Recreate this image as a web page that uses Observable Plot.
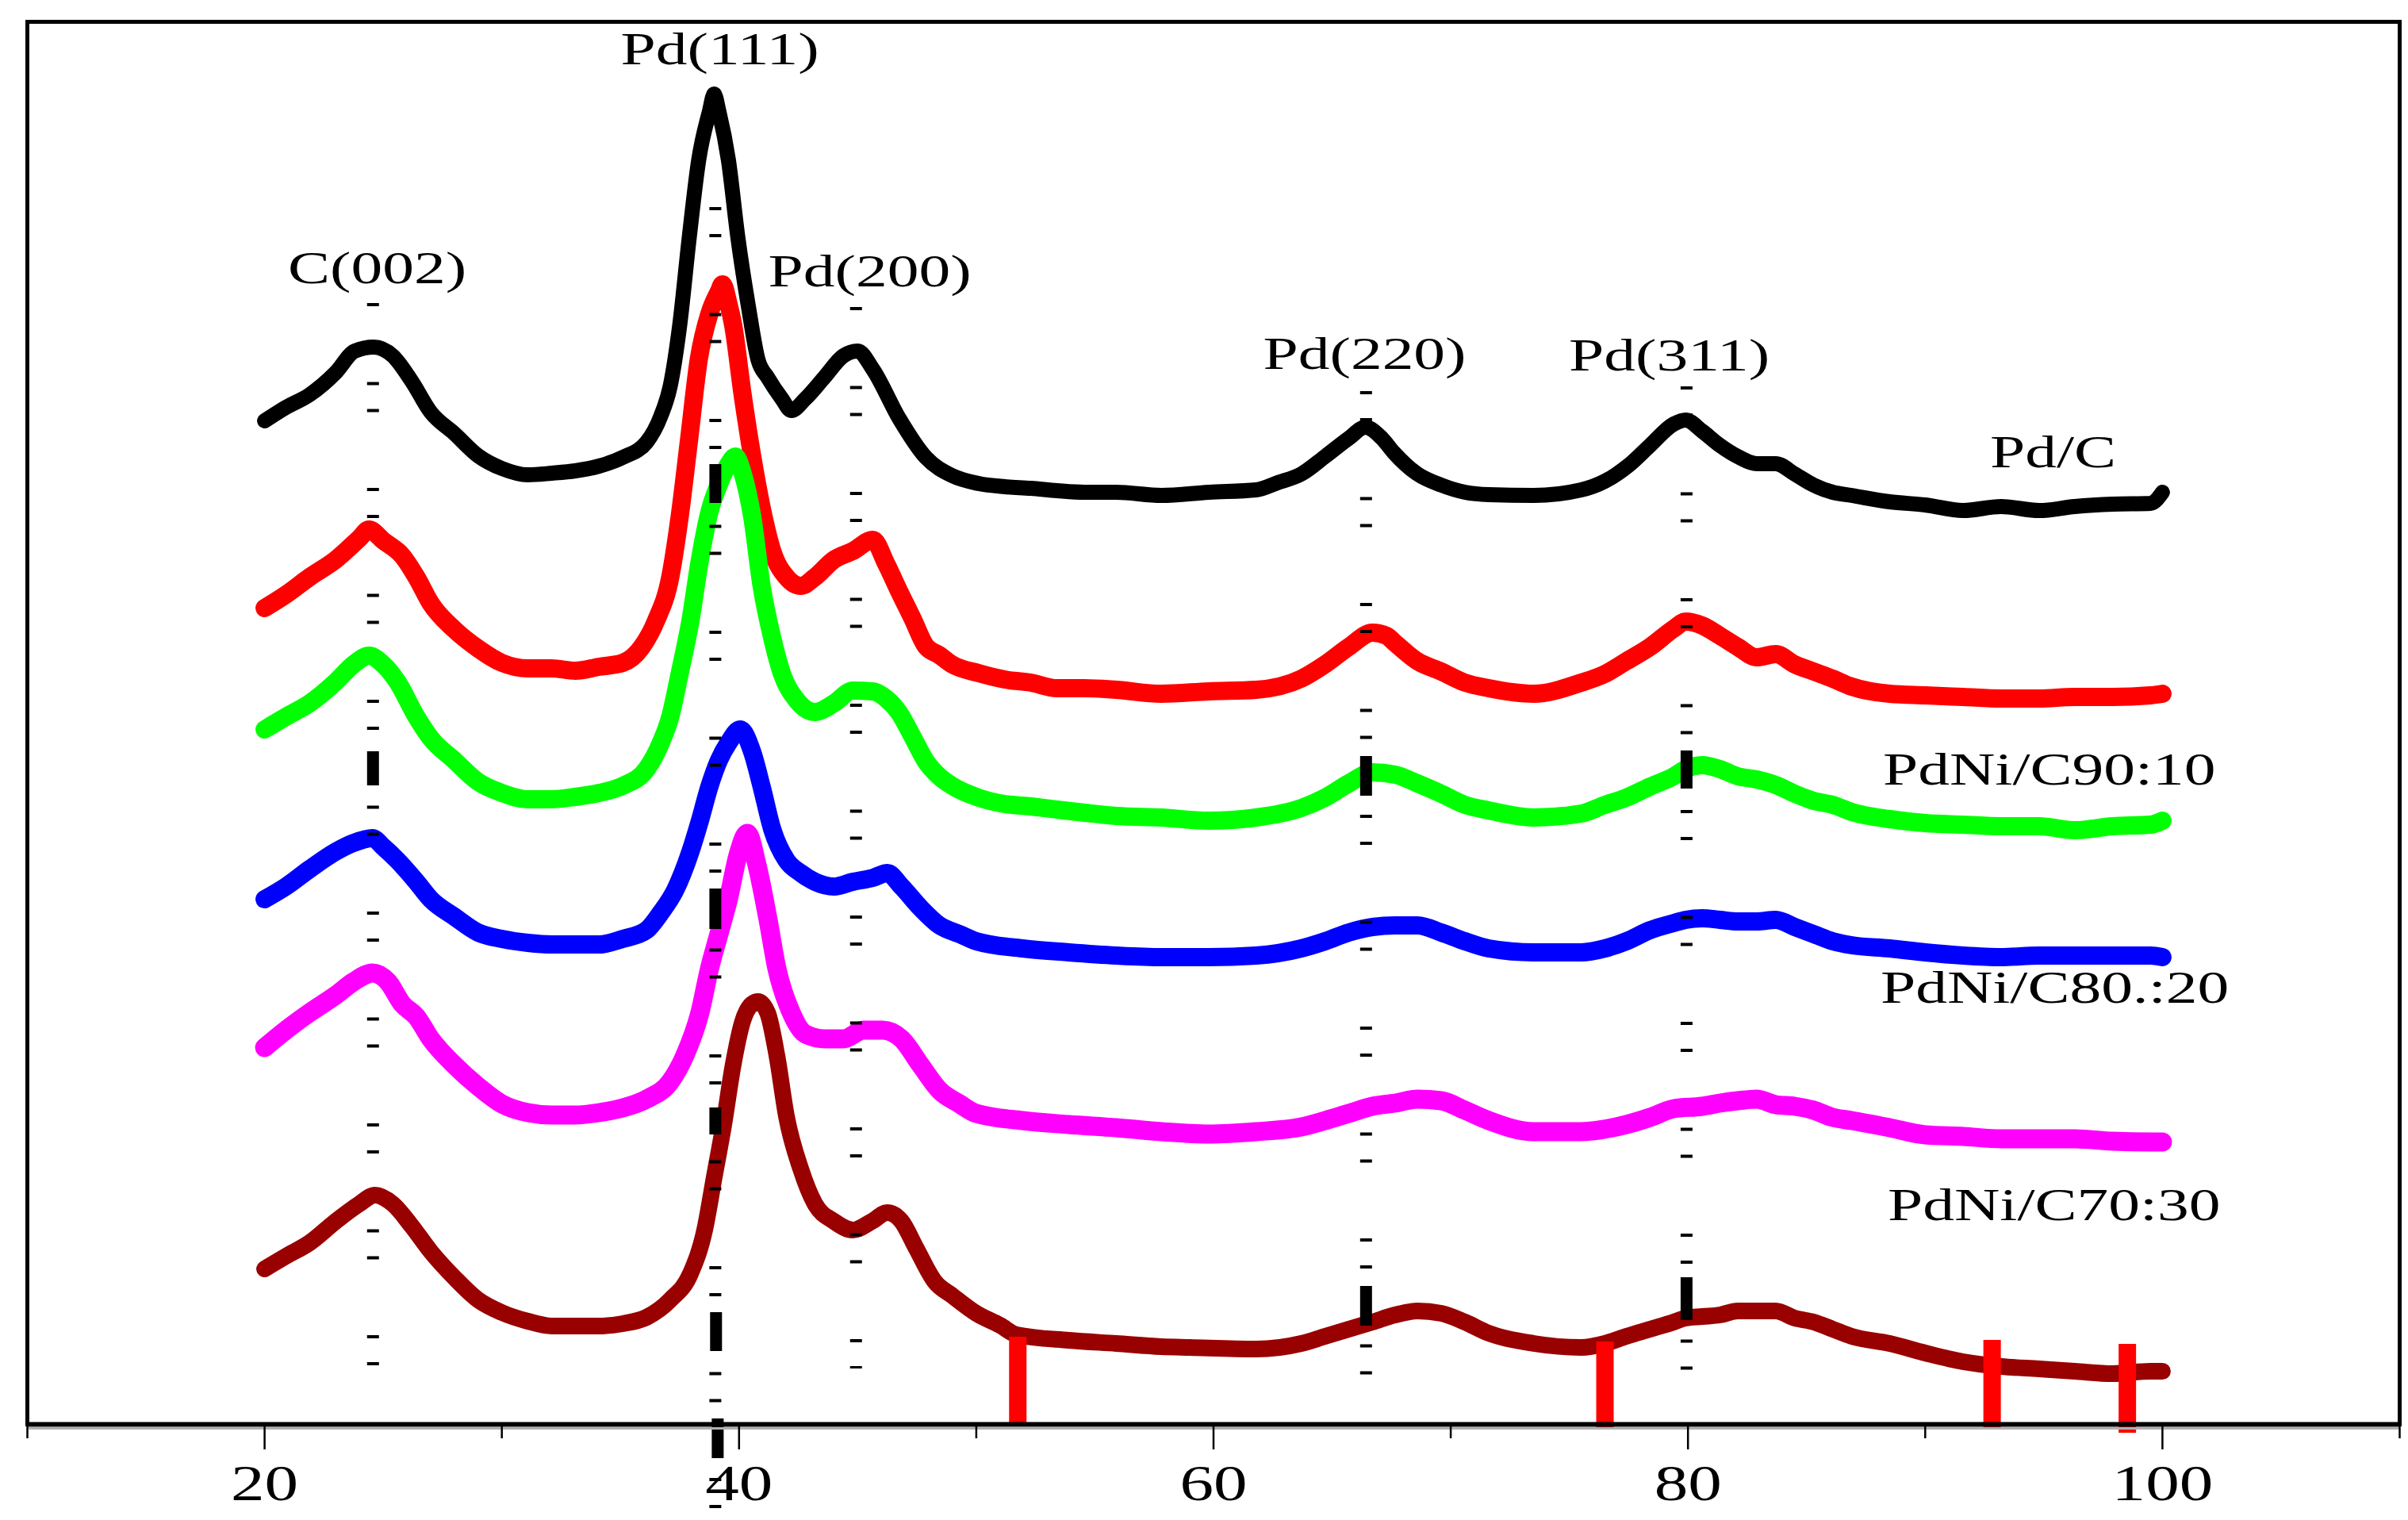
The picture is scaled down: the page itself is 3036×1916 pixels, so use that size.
<!DOCTYPE html>
<html><head><meta charset="utf-8">
<script src="https://cdn.jsdelivr.net/npm/d3@7"></script>
<script src="https://cdn.jsdelivr.net/npm/@observablehq/plot@0.6"></script>
<style>html,body{margin:0;padding:0;background:#fff;}</style>
</head><body><div id="chart"></div>
<script>
// 2θ (degrees) vs intensity (a.u.) (stacked patterns)
const pdC = [[20.0,1265],[20.9,1282],[21.9,1298],[23.0,1326],[23.8,1353],[24.6,1358],[25.4,1347],[26.2,1315],[27.0,1276],[28.0,1249],[29.0,1221],[30.0,1205],[31.1,1197],[32.1,1199],[33.1,1202],[34.1,1208],[35.1,1219],[36.1,1238],[36.7,1271],[37.1,1309],[37.5,1386],[37.9,1496],[38.3,1594],[38.75,1655],[38.95,1677],[39.15,1655],[39.55,1594],[39.95,1496],[40.4,1408],[40.8,1342],[41.2,1320],[41.8,1293],[42.2,1278],[42.8,1293],[43.6,1320],[44.4,1347],[45.0,1353],[45.64,1330],[46.75,1268],[47.87,1219],[48.98,1196],[50.1,1186],[51.2,1182],[52.3,1180],[53.4,1177],[54.56,1175],[55.9,1175],[57.8,1171],[59.8,1175],[61.8,1178],[62.7,1187],[63.7,1198],[64.7,1220],[65.7,1243],[66.4,1257],[67.1,1243],[67.6,1225],[68.6,1198],[69.6,1184],[70.6,1175],[71.6,1172],[73.5,1171],[75.5,1178],[76.5,1189],[77.5,1209],[78.4,1234],[79.4,1261],[79.9,1266],[80.6,1252],[81.35,1234],[82.1,1220],[82.9,1211],[83.7,1211],[84.5,1198],[85.3,1184],[86.1,1175],[86.9,1171],[88.5,1163],[90.0,1159],[91.6,1152],[93.2,1157],[94.8,1152],[96.3,1157],[97.9,1160],[99.5,1161],[100.0,1175]];
const pdNi95 = [[20.0,1029],[20.9,1046],[21.9,1068],[23.0,1090],[24.0,1117],[24.4,1128],[25.0,1114],[25.8,1095],[26.4,1068],[27.0,1035],[28.0,1002],[29.0,978],[30.0,960],[31.1,953],[32.1,953],[33.1,950],[34.1,955],[35.1,960],[35.9,980],[36.5,1013],[37.1,1068],[37.5,1145],[37.9,1243],[38.3,1342],[38.75,1400],[39.15,1428],[39.3,1437],[39.55,1413],[39.75,1386],[40.15,1298],[40.55,1221],[40.95,1156],[41.4,1101],[42.0,1068],[42.6,1057],[43.2,1068],[44.0,1090],[44.8,1101],[45.64,1115],[46.2,1085],[46.75,1050],[47.31,1016],[47.87,981],[48.43,970],[48.98,958],[50.1,947],[51.2,939],[52.3,935],[53.4,928],[54.56,928],[55.9,926],[57.8,921],[59.8,924],[61.8,926],[63.7,940],[64.7,958],[65.7,980],[66.7,998],[67.3,994],[67.65,985],[68.6,962],[69.6,949],[70.6,935],[71.6,928],[73.5,921],[75.5,935],[76.5,946],[77.4,962],[78.4,980],[79.4,1003],[79.9,1012],[80.6,1007],[81.35,994],[82.1,980],[82.9,967],[83.7,971],[84.5,958],[85.3,949],[86.1,940],[86.9,930],[88.5,921],[90.0,919],[91.6,917],[93.2,915],[94.8,915],[96.3,917],[97.9,917],[99.5,919],[100.0,921]];
const pdNi90 = [[20.0,876],[20.9,892],[21.9,909],[23.0,936],[23.75,958],[24.4,969],[25.0,958],[25.6,936],[26.4,892],[27.0,865],[28.0,837],[29.0,810],[30.0,796],[31.1,788],[32.1,788],[33.1,791],[34.1,796],[35.1,805],[36.1,826],[36.7,859],[37.1,892],[37.5,947],[37.95,1013],[38.35,1090],[38.75,1150],[39.15,1185],[39.55,1210],[39.85,1220],[40.15,1199],[40.55,1145],[40.95,1057],[41.4,991],[41.8,947],[42.4,914],[43.2,898],[44.0,909],[44.8,925],[45.64,924],[46.2,915],[46.75,897],[47.31,867],[47.87,836],[48.43,817],[48.98,805],[50.1,790],[51.2,782],[52.3,779],[53.4,775],[54.56,771],[55.9,767],[57.8,765],[59.8,761],[61.8,765],[63.7,777],[64.7,790],[65.7,808],[66.7,822],[67.65,819],[68.6,808],[69.6,795],[70.6,781],[71.6,774],[73.5,765],[75.5,770],[76.5,781],[77.4,790],[78.4,804],[79.4,817],[79.9,826],[80.6,831],[81.35,826],[82.1,817],[82.9,813],[83.7,806],[84.5,795],[85.3,786],[86.1,781],[86.9,772],[88.5,763],[90.0,758],[91.6,756],[93.2,754],[94.8,754],[96.3,749],[97.9,754],[99.5,756],[100.0,761]];
const pdNi85 = [[20.0,662],[20.9,678],[21.9,700],[23.0,722],[23.75,733],[24.55,739],[25.0,728],[25.6,711],[26.4,684],[27.0,662],[28.0,640],[29.0,620],[30.0,612],[31.1,607],[32.1,605],[33.1,605],[34.1,605],[35.1,612],[36.1,623],[36.7,645],[37.3,673],[37.95,722],[38.35,761],[38.75,804],[39.15,837],[39.55,859],[40.05,876],[40.55,848],[40.95,804],[41.4,750],[42.0,711],[42.6,695],[43.2,684],[44.0,678],[44.8,684],[45.65,689],[46.25,695],[46.85,678],[47.65,651],[48.45,629],[49.3,618],[50.0,609],[51.95,600],[53.9,595],[55.9,591],[57.8,589],[59.8,589],[61.8,591],[63.7,600],[64.7,609],[65.7,620],[66.7,627],[67.65,629],[68.6,629],[69.6,620],[70.6,609],[71.6,600],[73.5,595],[75.5,595],[76.5,600],[77.4,609],[78.4,623],[79.4,632],[79.9,636],[80.6,638],[81.35,636],[82.1,634],[82.9,634],[83.7,636],[84.5,627],[85.3,618],[86.1,609],[86.9,604],[88.5,600],[90.0,595],[91.6,591],[93.2,589],[94.8,591],[96.3,591],[97.9,591],[99.5,591],[100.0,589]];
const pdNi80 = [[20.0,475],[20.9,497],[21.9,519],[23.0,541],[23.75,558],[24.55,569],[25.2,558],[25.8,530],[26.4,514],[27.0,486],[28.0,453],[29.0,426],[30.0,404],[31.1,393],[32.1,390],[33.1,390],[34.1,393],[35.1,399],[36.1,410],[37.1,432],[37.7,464],[38.35,519],[38.75,574],[39.15,618],[39.55,662],[39.95,717],[40.35,745],[40.75,706],[41.2,640],[41.6,574],[42.2,519],[42.8,492],[43.6,486],[44.4,486],[45.25,497],[46.05,497],[46.85,486],[47.65,453],[48.45,421],[49.3,404],[50.0,392],[51.95,383],[53.9,378],[55.9,374],[57.8,369],[59.8,366],[61.8,369],[63.7,375],[64.7,383],[65.7,392],[66.7,401],[67.65,405],[68.6,410],[69.6,408],[70.6,396],[71.6,383],[73.5,369],[75.5,369],[77.4,378],[78.4,387],[79.4,398],[80.6,401],[81.35,405],[82.1,408],[82.9,410],[83.7,403],[84.5,401],[85.3,396],[86.1,387],[86.9,383],[88.5,374],[90.0,365],[91.6,363],[93.2,360],[94.8,360],[96.3,360],[97.9,357],[99.5,356],[100.0,356]];
const pdNi70 = [[20.0,196],[20.9,212],[21.9,229],[23.0,256],[24.0,278],[24.65,289],[25.4,278],[26.2,250],[27.0,218],[28.0,185],[29.0,157],[30.0,141],[31.1,130],[32.1,124],[33.1,124],[34.1,124],[35.1,127],[36.1,135],[37.1,157],[37.95,190],[38.55,245],[38.95,311],[39.35,377],[39.75,453],[40.15,508],[40.55,530],[40.8,533],[41.2,519],[41.6,464],[42.0,388],[42.6,322],[43.2,278],[44.0,256],[44.8,245],[45.6,256],[46.25,267],[46.85,256],[47.45,223],[48.25,180],[49.0,162],[50.0,140],[51.0,125],[51.7,113],[53.9,106],[55.9,102],[57.8,98],[59.0,97],[61.8,95],[63.7,102],[64.7,111],[65.7,120],[66.7,129],[67.65,138],[68.6,143],[69.6,140],[70.6,129],[71.6,115],[73.5,102],[75.5,97],[76.5,102],[77.4,111],[78.4,120],[79.4,129],[79.9,134],[80.6,136],[81.35,138],[82.1,143],[82.9,143],[83.7,143],[84.5,134],[85.3,129],[86.1,120],[86.9,111],[88.5,102],[90.0,90],[91.6,79],[93.2,73],[94.8,70],[96.3,67],[97.9,64],[99.5,67],[100.0,67]];

// reference (dashed) peak positions
const guideX = [24.57, 39.0, 44.93, 66.43, 79.94];
const guideTop = [1413, 1534, 1408, 1302, 1308];
const guideBottom = [73, -107, 70, 62, 67];
const guidePhase = [34, 0, 34, 0, 0];
// solid black reference marks: [2θ, low, high]
const blackMarks = [[24.57,805,848],[39.0,1161,1210],[39.0,624,675],[39.0,365,399],[39.03,92,141],[39.1,-43,7],[66.43,792,842],[66.43,124,174],[79.94,801,849],[79.94,131,185]];
// red reference bars
const redX = [51.75, 76.5, 92.82, 98.52];
const redTop = [110, 104, 106, 101];
const redBottom = [-3, -7, -7, -11];

const majorTicks = [20, 40, 60, 80, 100];
const minorTicks = [10, 30, 50, 70, 90, 110];

const peakLabels = [
  {text: "Pd(111)", x: 39.19, y: 1733},
  {text: "C(002)", x: 24.75, y: 1457},
  {text: "Pd(200)", x: 45.51, y: 1453},
  {text: "Pd(220)", x: 66.37, y: 1349},
  {text: "Pd(311)", x: 79.21, y: 1347}
];
const sampleLabels = [
  {text: "Pd/C", x: 95.39, y: 1225},
  {text: "PdNi/C90:10", x: 95.23, y: 825},
  {text: "PdNi/C80.:20", x: 95.46, y: 550},
  {text: "PdNi/C70:30", x: 95.43, y: 276}
];

const series = [
  {pts: pdC, color: "#000000", w: 19},
  {pts: pdNi95, color: "#ff0000", w: 23},
  {pts: pdNi90, color: "#00ff00", w: 23},
  {pts: pdNi85, color: "#0000ff", w: 23},
  {pts: pdNi80, color: "#ff00ff", w: 24},
  {pts: pdNi70, color: "#990000", w: 21}
];

const FONT = "Liberation Serif";
const marks = [];
for (const s of series) {
  marks.push(Plot.line(s.pts, {x: d => d[0], y: d => d[1], stroke: s.color, strokeWidth: s.w, curve: "monotone-x", strokeLinejoin: "round", strokeLinecap: "round"}));
}
guideX.forEach((gx, i) => {
  marks.push(Plot.ruleX([i], {x: j => guideX[j], y1: j => guideTop[j], y2: j => guideBottom[j], stroke: "black", strokeWidth: 15, strokeDasharray: "4,30,4,95.5", strokeDashoffset: guidePhase[i]}));
});
marks.push(Plot.ruleX(blackMarks, {x: d => d[0], y1: d => d[2], y2: d => d[1], stroke: "black", strokeWidth: 15}));
marks.push(Plot.ruleX(redX.map((_, i) => i), {x: i => redX[i], y1: i => redTop[i], y2: i => redBottom[i], stroke: "#ff0000", strokeWidth: 22}));
marks.push(Plot.frame({stroke: "black", strokeWidth: 5}));
marks.push(Plot.ruleY([0], {stroke: "black", strokeWidth: 6}));
marks.push(Plot.ruleY([0], {stroke: "#b0b0b0", strokeWidth: 3, dy: 5}));
marks.push(Plot.axisX(minorTicks, {tickSize: 18, tickFormat: () => "", label: null, strokeWidth: 2.5, stroke: "black"}));
marks.push(Plot.axisX(majorTicks, {tickSize: 32, tickPadding: 18, fontSize: 64, fontFamily: FONT, label: null, strokeWidth: 2.5, stroke: "black", fill: "black", tickFormat: d => String(d)}));
marks.push(Plot.text(peakLabels, {x: "x", y: "y", text: "text", fontSize: 58, fontFamily: FONT, fill: "black", textAnchor: "middle", lineAnchor: "middle"}));
marks.push(Plot.text(sampleLabels, {x: "x", y: "y", text: "text", fontSize: 58, fontFamily: FONT, fill: "black", textAnchor: "middle", lineAnchor: "middle"}));

const svg = Plot.plot({
  width: 3036,
  height: 1916,
  marginLeft: 34,
  marginRight: 11,
  marginTop: 27,
  marginBottom: 121,
  style: {background: "white", fontFamily: FONT},
  x: {domain: [10, 110], axis: null, label: null},
  y: {domain: [0, 1768], axis: null, label: null},
  marks
});
document.getElementById("chart").append(svg);
// the reference's serif lettering is horizontally stretched
svg.querySelectorAll("text").forEach(t => {
  const L = t.getComputedTextLength();
  if (L > 0) {
    const isTick = (t.closest("g[aria-label]") || {}).getAttribute?.("aria-label")?.includes("tick");
    t.setAttribute("textLength", L * (isTick ? 1.33 : 1.37));
    t.setAttribute("lengthAdjust", "spacingAndGlyphs");
  }
});
</script>
</body></html>
